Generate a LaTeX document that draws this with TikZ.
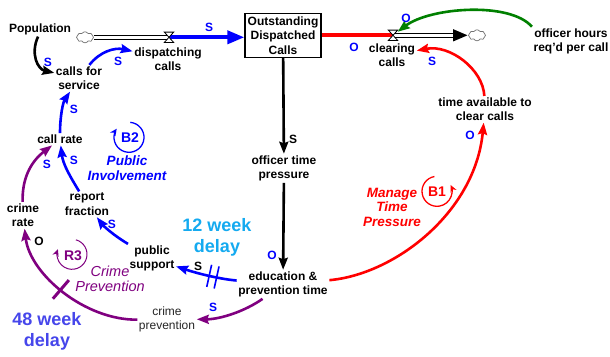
\documentclass[tikz,border=0pt]{standalone}
\usepackage{fontspec}
\setmainfont{Liberation Sans}
\usetikzlibrary{arrows.meta,shapes.symbols}

\definecolor{pblue}{RGB}{0,0,255}
\definecolor{pred}{RGB}{255,0,0}
\definecolor{pgreen}{RGB}{0,128,0}
\definecolor{ppurple}{RGB}{128,0,128}
\definecolor{shortdelay}{RGB}{20,170,240}
\definecolor{longdelay}{RGB}{70,70,235}

\begin{document}
\begin{tikzpicture}[x=1pt,y=-1pt,
  var/.style={font=\bfseries\fontsize{12}{14.5}\selectfont, align=center, inner sep=1.5pt},
  lightvar/.style={font=\fontsize{12}{13.5}\selectfont, align=center, inner sep=1.5pt, text=black!85},
  pol/.style={font=\bfseries\fontsize{12}{14}\selectfont, inner sep=0pt, text=pblue},
  link/.style={line width=2.6pt, -{Stealth[length=12pt,width=9pt,inset=1.5pt]}},
  loopname/.style={font=\bfseries\itshape\fontsize{13.5}{14.5}\selectfont, align=center, inner sep=0pt},
  looptag/.style={font=\bfseries\fontsize{14}{16}\selectfont, inner sep=0pt},
  loopring/.style={line width=1.3pt, -{Stealth[length=7pt,width=6.5pt]}},
  delaytext/.style={font=\bfseries\fontsize{18}{21}\selectfont, align=center, inner sep=0pt},
  valve/.style={minimum width=9pt, minimum height=10pt, inner sep=0pt},
  sink/.style={cloud, cloud puffs=8, cloud puff arc=120, aspect=1.6, draw=black!55,
               line width=0.7pt, fill=white, minimum width=17pt, minimum height=11pt, inner sep=0pt},
]
\fill[white] (0,0) rectangle (610,352);

% ---- stock and flows ----
\node[draw, line width=1.3pt, minimum width=76pt, minimum height=44pt, var, inner sep=0pt]
  (stock) at (283,31) {Outstanding\\Dispatched\\Calls};
\node[sink] (c1) at (85,33) {};
\node[sink] (c2) at (477,31) {};
\node[valve] (v1) at (169,33) {};
\node[valve] (v2) at (393,31) {};

% inflow pipe
\draw[line width=5.5pt] (c1.east) -- (v1.center);
\draw[line width=3pt, white] (c1.east) -- (v1.center);
\draw[line width=3.8pt, pblue, -{Triangle[length=17pt,width=13pt]}] (v1.center) -- (v1 -| stock.west);
% outflow pipe
\draw[line width=4pt, pred] (v2 -| stock.east) -- (v2.center);
\draw[line width=5.5pt, -{Triangle[length=15pt,width=11pt]}] (v2.center) -- (c2.west);
\draw[line width=3pt, white, shorten >=15pt] (v2.center) -- (c2.west);
% valves
\foreach \v in {v1,v2}
  \draw[line width=0.8pt, fill=white] (\v.north west) -- (\v.north east) -- (\v.south west) -- (\v.south east) -- cycle;

% ---- variables ----
\node[var] (pop)  at (40,25)  {Population};
\node[var] (cfs)  at (79,74)  {calls for\\service};
\node[var] (disp) at (168,55) {dispatching\\calls};
\node[var] (clr)  at (392,51) {clearing\\calls};
\node[var] (ohr)  at (571,37) {officer hours\\req'd per call};
\node[var] (tav)  at (485,105) {time available to\\clear calls};
\node[var] (otp)  at (284,164) {officer time\\pressure};
\node[var] (ept)  at (283,280) {education \&\\prevention time};
\node[var] (ps)   at (152,254) {public\\support};
\node[var] (rf)   at (87,200)  {report\\fraction};
\node[var] (cr)   at (60,135)  {call rate};
\node[var] (crate) at (23,211) {crime\\rate};
\node[lightvar] (cp) at (167,315) {crime\\prevention};

% ---- links ----
\draw[link] (pop.-105) .. controls (30,50) and (38,65) .. (cfs);
\draw[link, pblue] (cfs) .. controls (100,47) and (115,43) .. (disp);
\draw[link, pblue] (cr) .. controls (60,112) and (63,98) .. (cfs);
\draw[link, pblue] (rf) .. controls (70,172) and (63,160) .. (cr);
\draw[link, pblue] (ps) .. controls (112,230) and (103,221) .. (rf);
\draw[link, ppurple] (crate) .. controls (22,175) and (30,158) .. (cr);
\draw[link] (stock) -- (otp);
\draw[link] (otp) -- (ept);
\draw[link, pblue] (ept) .. controls (222,275) and (200,270) .. (ps)
  node[pos=0.45, sloped, minimum width=5pt, minimum height=20pt, inner sep=0pt] (dm1) {};
\draw[pblue, line width=1.6pt] (dm1.north west) -- (dm1.south west) (dm1.north east) -- (dm1.south east);
\draw[link, ppurple] (ept) .. controls (245,307) and (220,315) .. (cp);
\draw[link, ppurple] (cp) .. controls (85,316) and (30,270) .. (crate)
  node[pos=0.52, sloped, minimum width=0pt, minimum height=22pt, inner sep=0pt] (dm2) {};
\draw[ppurple, line width=3pt] (dm2.north) -- (dm2.south);
\draw[link, pred] (ept) .. controls (395,270) and (475,208) .. (tav);
\draw[link, pred] (tav) .. controls (483,65) and (450,40) .. (clr);
\draw[link, pgreen] (ohr.north west) .. controls (510,-3) and (430,3) .. (v2);

% ---- polarities ----
\node[pol] at (209,23) {S};
\node[pol] at (48,58) {S};
\node[pol] at (118,57) {S};
\node[pol] at (74,105) {S};
\node[pol] at (74,156) {S};
\node[pol] at (47,160) {S};
\node[pol] at (112,220) {S};
\node[pol] at (213,303) {S};
\node[pol] at (354,43) {O};
\node[pol] at (406,14) {O};
\node[pol] at (432,57) {S};
\node[pol] at (470,131) {O};
\node[pol] at (272,251) {O};
\node[pol, text=black] at (293,135) {S};
\node[pol, text=black] at (198,262) {S};
\node[pol, text=black] at (39,237) {O};

% ---- loops ----
\draw[loopring, pred] (437,187) ++(100:15pt) arc[start angle=100, end angle=385, radius=15pt];
\node[looptag, text=pred] at (437,187) {B1};
\node[loopname, text=pred] at (392,203) {Manage\\Time\\Pressure};

\draw[loopring, pblue] (129,133) ++(85:15pt) arc[start angle=85, end angle=-215, radius=15pt];
\node[looptag, text=pblue] at (130,133) {B2};
\node[loopname, text=pblue] at (127,164) {Public\\Involvement};

\draw[loopring, ppurple, line width=1pt] (72,250) ++(75:15pt) arc[start angle=75, end angle=-200, radius=15pt];
\node[looptag, text=ppurple] at (73,251) {R3};
\node[loopname, text=ppurple, font=\itshape\fontsize{14.5}{15}\selectfont] at (110,275) {Crime\\Prevention};

% ---- delays ----
\node[delaytext, text=shortdelay] at (217,233) {12 week\\delay};
\node[delaytext, text=longdelay] at (47,327) {48 week\\delay};
\end{tikzpicture}
\end{document}
